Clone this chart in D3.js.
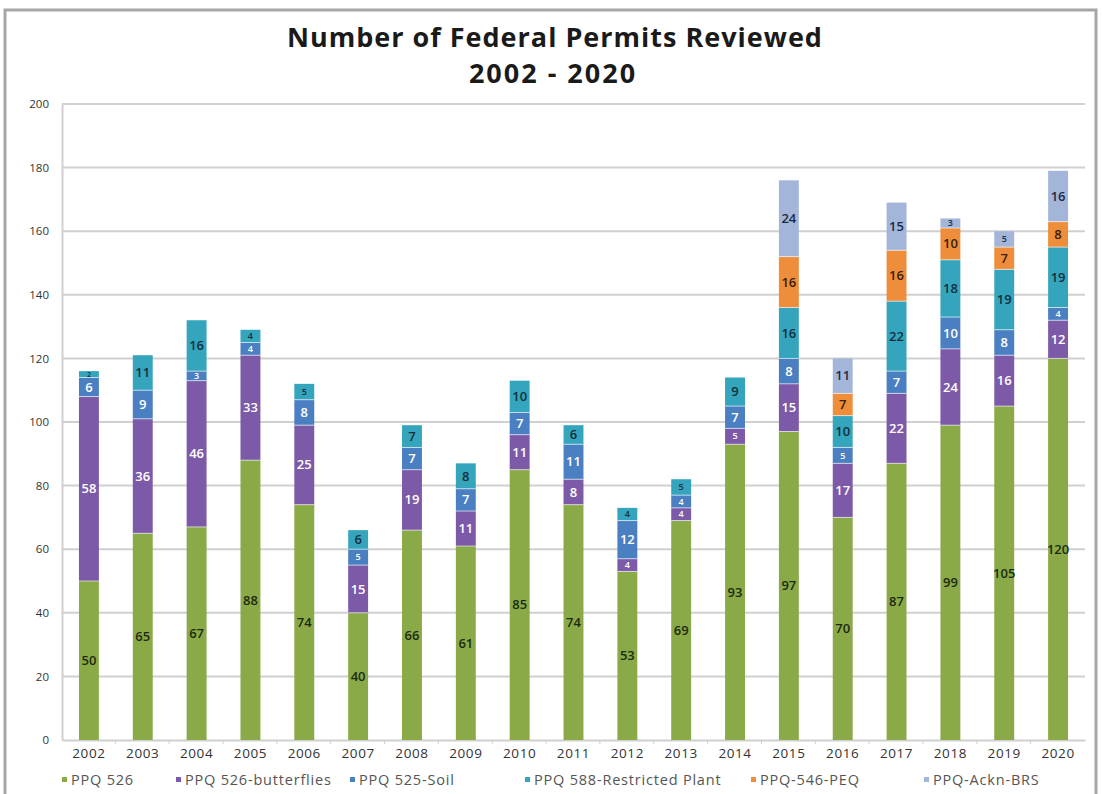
<!DOCTYPE html>
<html>
<head>
<meta charset="utf-8">
<script src="https://cdn.jsdelivr.net/npm/d3@7"></script>
<style>
  body { margin: 0; background: #fff; }
  svg { display: block; }
</style>
</head>
<body>
<svg id="chart" width="1102" height="794"></svg>
<script>
// Permit counts per year, one array per permit type (stack order bottom → top)
const years = ["2002","2003","2004","2005","2006","2007","2008","2009","2010","2011",
               "2012","2013","2014","2015","2016","2017","2018","2019","2020"];
const seriesNames = ["PPQ 526", "PPQ 526-butterflies", "PPQ 525-Soil",
                     "PPQ 588-Restricted Plant", "PPQ-546-PEQ", "PPQ-Ackn-BRS"];
const ppq526       = [50, 65, 67, 88, 74, 40, 66, 61, 85, 74, 53, 69, 93, 97, 70, 87, 99, 105, 120];
const ppq526Butter = [58, 36, 46, 33, 25, 15, 19, 11, 11,  8,  4,  4,  5, 15, 17, 22, 24, 16, 12];
const ppq525Soil   = [ 6,  9,  3,  4,  8,  5,  7,  7,  7, 11, 12,  4,  7,  8,  5,  7, 10,  8,  4];
const ppq588       = [ 2, 11, 16,  4,  5,  6,  7,  8, 10,  6,  4,  5,  9, 16, 10, 22, 18, 19, 19];
const ppq546Peq    = [ 0,  0,  0,  0,  0,  0,  0,  0,  0,  0,  0,  0,  0, 16,  7, 16, 10,  7,  8];
const acknBrs      = [ 0,  0,  0,  0,  0,  0,  0,  0,  0,  0,  0,  0,  0, 24, 11, 15,  3,  5, 16];
const yTicks = [0, 20, 40, 60, 80, 100, 120, 140, 160, 180, 200];

const seriesValues = [ppq526, ppq526Butter, ppq525Soil, ppq588, ppq546Peq, acknBrs];
const colors = ["#8aaa48", "#7c5aa8", "#4a80c2", "#35a5be", "#ef8e3a", "#a3b6da"];
const labelColors = ["#1e2a10", "#ffffff", "#ffffff", "#12303a", "#3a2006", "#1e2a44"];

const rows = years.map((y, i) => {
  const r = { year: y };
  seriesNames.forEach((s, k) => { r[s] = seriesValues[k][i]; });
  return r;
});

const svg = d3.select("#chart");
const font = "Open Sans, sans-serif";

// outer frame
svg.append("rect")
  .attr("x", 5).attr("y", 10).attr("width", 1091).attr("height", 792)
  .attr("fill", "none").attr("stroke", "#a6a6a6").attr("stroke-width", 3);

// titles
svg.append("text").attr("x", 555).attr("y", 47).attr("text-anchor", "middle")
  .attr("font-family", font).attr("font-weight", 700)
  .attr("font-size", 27).attr("letter-spacing", 1).attr("fill", "#1a1a1a")
  .text("Number of Federal Permits Reviewed");
svg.append("text").attr("x", 553).attr("y", 83).attr("text-anchor", "middle")
  .attr("font-family", font).attr("font-weight", 700)
  .attr("font-size", 27).attr("letter-spacing", 2).attr("fill", "#1a1a1a")
  .text("2002 - 2020");

const plot = { left: 62, right: 1085, top: 104, bottom: 740 };

const x = d3.scaleBand().domain(years).range([plot.left, plot.right])
  .paddingInner(0.63).paddingOuter(0.315);
const y = d3.scaleLinear().domain([0, 200]).range([plot.bottom, plot.top]);

// gridlines
svg.append("g").selectAll("line").data(yTicks.filter(t => t > 0)).join("line")
  .attr("x1", plot.left).attr("x2", plot.right)
  .attr("y1", d => y(d)).attr("y2", d => y(d))
  .attr("stroke", "#d0d0d0").attr("stroke-width", 2);

// y axis
const yAxis = svg.append("g").attr("transform", `translate(${plot.left},0)`)
  .call(d3.axisLeft(y).tickValues(yTicks).tickSize(0).tickPadding(13));
yAxis.select(".domain").attr("stroke", "#d0d0d0").attr("stroke-width", 2);
yAxis.selectAll("text").attr("font-family", font)
  .attr("font-size", 11.5).attr("fill", "#333");

// x axis
const xAxis = svg.append("g").attr("transform", `translate(0,${plot.bottom})`)
  .call(d3.axisBottom(x).tickSize(0).tickPadding(8));
xAxis.select(".domain").attr("stroke", "#cfcfcf").attr("stroke-width", 2);
xAxis.selectAll("text").attr("font-family", font)
  .attr("font-size", 13.5).attr("letter-spacing", 0.6).attr("fill", "#333");
// small separators between categories
svg.append("g").selectAll("line").data(years.slice(1)).join("line")
  .attr("x1", d => x(d) - x.step() * x.paddingInner() / 2 - 0.5)
  .attr("x2", d => x(d) - x.step() * x.paddingInner() / 2 - 0.5)
  .attr("y1", plot.bottom).attr("y2", plot.bottom + 4)
  .attr("stroke", "#cfcfcf");

// stacked bars
const stacked = d3.stack().keys(seriesNames)(rows);
const layers = svg.append("g").selectAll("g").data(stacked).join("g")
  .attr("fill", (d, i) => colors[i]);
layers.selectAll("rect").data(d => d).join("rect")
  .attr("x", d => x(d.data.year))
  .attr("width", x.bandwidth())
  .attr("y", d => y(d[1]))
  .attr("height", d => y(d[0]) - y(d[1]));

// separators between stacked segments
layers.filter((d, i) => i > 0).selectAll("line").data(d => d.filter(p => p[1] > p[0])).join("line")
  .attr("x1", d => x(d.data.year)).attr("x2", d => x(d.data.year) + x.bandwidth())
  .attr("y1", d => y(d[0])).attr("y2", d => y(d[0]))
  .attr("stroke", "#ffffff").attr("stroke-opacity", 0.6).attr("stroke-width", 1);

// value labels, shrunk on thin segments
const labelSize = v => v <= 2 ? 7 : v <= 5 ? 9 : 13;
stacked.forEach((layer, i) => {
  svg.append("g").selectAll("text").data(layer.filter(p => p[1] > p[0])).join("text")
    .attr("x", d => x(d.data.year) + x.bandwidth() / 2)
    .attr("y", d => (y(d[0]) + y(d[1])) / 2)
    .attr("dy", "0.35em")
    .attr("text-anchor", "middle")
    .attr("font-family", font)
    .attr("font-weight", 600)
    .attr("font-size", d => labelSize(d[1] - d[0]))
    .attr("fill", labelColors[i])
    .text(d => d[1] - d[0]);
});

// legend
const legendX = [62, 176, 350, 525, 751, 924];
const legend = svg.append("g").selectAll("g").data(seriesNames).join("g")
  .attr("transform", (d, i) => `translate(${legendX[i]},780)`);
legend.append("rect").attr("x", 0).attr("y", -3).attr("width", 5).attr("height", 5)
  .attr("fill", (d, i) => colors[i]);
legend.append("text").attr("x", 9).attr("y", 0).attr("dy", "0.35em")
  .attr("font-family", font).attr("font-size", 14.5).attr("letter-spacing", 0.8)
  .attr("fill", "#555").text(d => d);
</script>
</body>
</html>
